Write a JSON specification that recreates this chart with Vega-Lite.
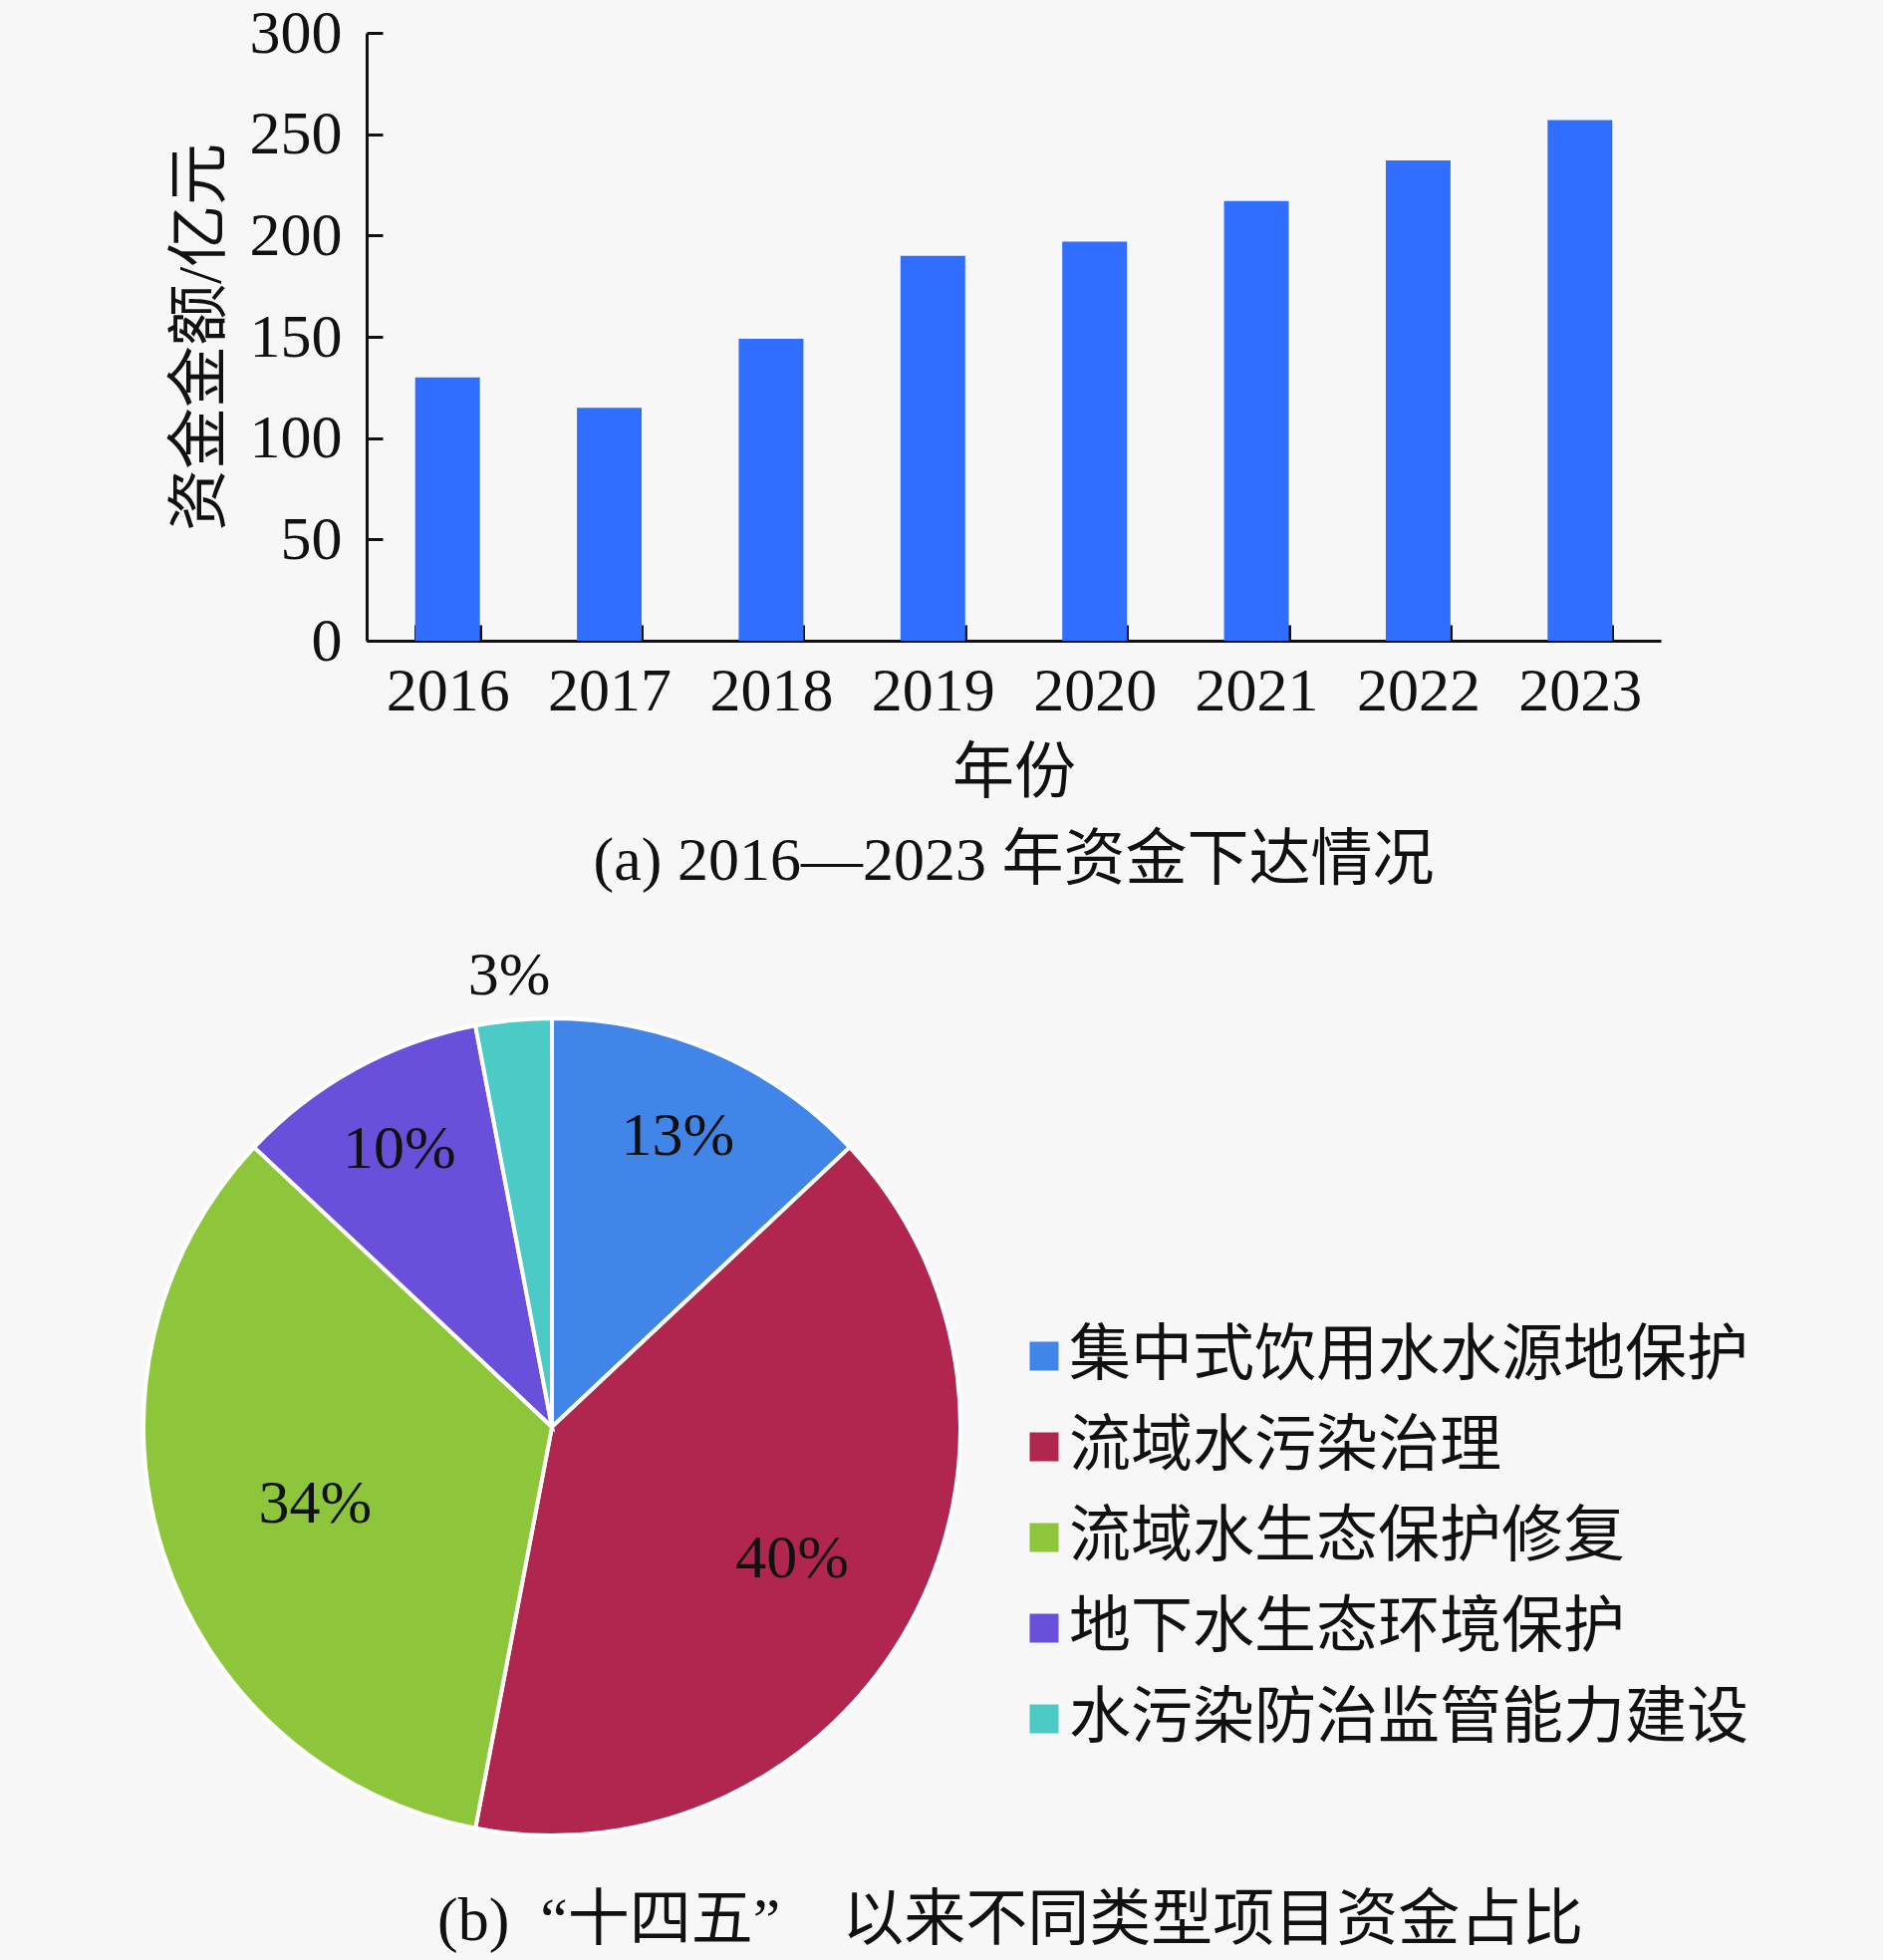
{
  "$schema": "https://vega.github.io/schema/vega-lite/v6.json",
  "background": "#f7f7f7",
  "padding": {"left": 121, "top": 2, "right": 136, "bottom": 10},
  "bounds": "flush",
  "spacing": 379,
  "config": {
    "view": {"stroke": null},
    "font": "Liberation Serif, Noto Sans CJK SC",
    "axis": {"labelFont": "Liberation Serif, Noto Sans CJK SC", "titleFont": "Liberation Serif, Noto Sans CJK SC", "labelFontSize": 62, "titleFontSize": 62, "titleFontWeight": "normal", "labelColor": "#111", "titleColor": "#111", "domainColor": "#111", "tickColor": "#111", "domainWidth": 3, "tickWidth": 3},
    "title": {"font": "Liberation Serif, Noto Sans CJK SC", "fontSize": 62, "fontWeight": "normal", "color": "#111"},
    "legend": {"labelFont": "Liberation Serif, Noto Sans CJK SC"}
  },
  "vconcat": [
    {
      "width": 1299,
      "height": 610,
      "data": {"values": [
        {"year": "2016", "amount": 130},
        {"year": "2017", "amount": 115},
        {"year": "2018", "amount": 149},
        {"year": "2019", "amount": 190},
        {"year": "2020", "amount": 197},
        {"year": "2021", "amount": 217},
        {"year": "2022", "amount": 237},
        {"year": "2023", "amount": 257}
      ]},
      "mark": {"type": "bar", "color": "#306EFF"},
      "encoding": {
        "x": {"field": "year", "type": "ordinal", "scale": {"paddingInner": 0.6, "paddingOuter": 0.3},
          "axis": {"title": "年份", "labelAngle": 0, "tickBand": "extent", "tickSize": -16, "labelPadding": 36, "titlePadding": 22}},
        "y": {"field": "amount", "type": "quantitative", "scale": {"domain": [0, 300], "nice": false},
          "axis": {"title": "资金金额/亿元", "values": [0, 50, 100, 150, 200, 250, 300], "grid": false, "tickSize": -16, "labelPadding": 41, "titlePadding": 17}}
      },
      "title": {"text": "(a) 2016—2023 年资金下达情况", "orient": "bottom", "anchor": "middle", "offset": 27}
    },
    {
      "width": 372,
      "height": 820,
      "data": {"values": [
        {"cat": "集中式饮用水水源地保护", "pct": 13, "label": "13%", "order": 1},
        {"cat": "流域水污染治理", "pct": 40, "label": "40%", "order": 2},
        {"cat": "流域水生态保护修复", "pct": 34, "label": "34%", "order": 3},
        {"cat": "地下水生态环境保护", "pct": 10, "label": "10%", "order": 4},
        {"cat": "水污染防治监管能力建设", "pct": 3, "label": "3%", "order": 5}
      ]},
      "title": {"text": "(b)\u2002“十四五”\u3000以来不同类型项目资金占比", "orient": "bottom", "anchor": "start", "frame": "group", "dx": 71, "offset": 48},
      "encoding": {
        "theta": {"field": "pct", "type": "quantitative", "stack": true},
        "order": {"field": "order", "type": "quantitative"}
      },
      "layer": [
        {
          "mark": {"type": "arc", "outerRadius": 410, "stroke": "white", "strokeWidth": 4},
          "encoding": {
            "color": {"field": "cat", "type": "nominal",
              "scale": {"domain": ["集中式饮用水水源地保护", "流域水污染治理", "流域水生态保护修复", "地下水生态环境保护", "水污染防治监管能力建设"],
                        "range": ["#4285E8", "#B0264F", "#8DC63A", "#6A4FDB", "#4CCBC6"]},
              "sort": null,
              "legend": {"title": null, "orient": "none", "legendX": 649, "legendY": 1297, "padding": 0,
                "symbolType": "square", "symbolSize": 841, "symbolStrokeWidth": 0, "labelFontSize": 62, "labelColor": "#111",
                "labelOffset": -6, "rowPadding": 29, "labelLimit": 1000}}
          }
        },
        {
          "mark": {"type": "text", "radius": 318, "fontSize": 62, "color": "#111"},
          "encoding": {"detail": {"field": "cat"}, "text": {"condition": {"test": "datum.order == 1 || datum.order == 4", "field": "label"}, "value": ""}}
        },
        {
          "mark": {"type": "text", "radius": 250, "fontSize": 62, "color": "#111"},
          "encoding": {"detail": {"field": "cat"}, "text": {"condition": {"test": "datum.order == 3", "field": "label"}, "value": ""}}
        },
        {
          "mark": {"type": "text", "radius": 275, "fontSize": 62, "color": "#111"},
          "encoding": {"detail": {"field": "cat"}, "text": {"condition": {"test": "datum.order == 2", "field": "label"}, "value": ""}}
        },
        {
          "mark": {"type": "text", "radius": 455, "fontSize": 62, "color": "#111"},
          "encoding": {"detail": {"field": "cat"}, "text": {"condition": {"test": "datum.order == 5", "field": "label"}, "value": ""}}
        }
      ]
    }
  ]
}
